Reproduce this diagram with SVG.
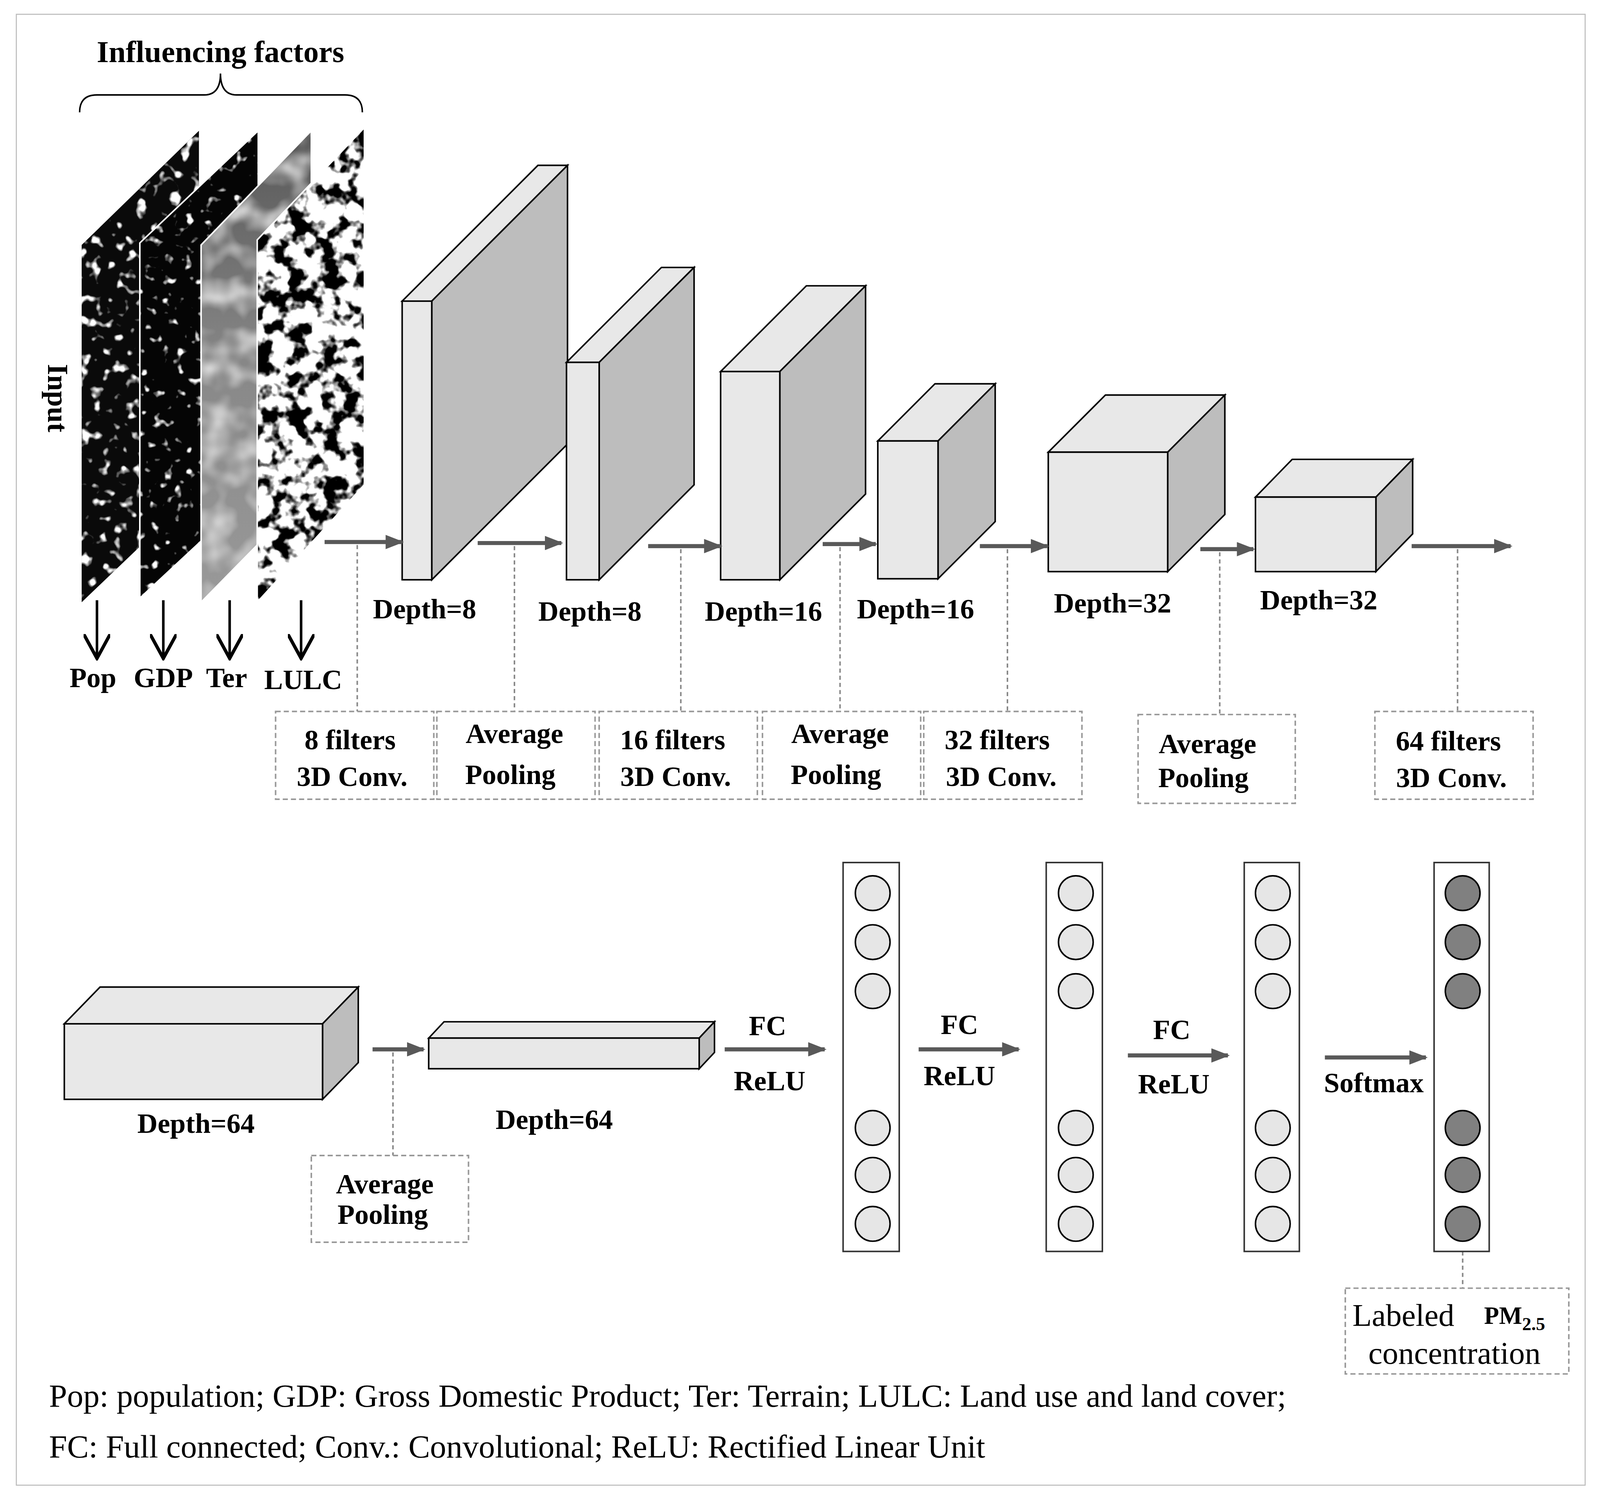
<svg xmlns="http://www.w3.org/2000/svg" width="4135" height="3868" viewBox="0 0 4135 3868">
<style>
text{font-family:"Liberation Serif","Times New Roman",serif;fill:#000}
.b{font-weight:bold;font-size:27.5px;text-anchor:middle}
.n{font-size:31px}
.lg{font-size:31.8px}
.f{fill:#e8e8e8;stroke:#000;stroke-width:1.5}
.s{fill:#bdbdbd;stroke:#000;stroke-width:1.5}
.ar{stroke:#595959;stroke-width:4;fill:none;marker-end:url(#ah)}
.dl{stroke:#888;stroke-width:1.5;stroke-dasharray:4 3;fill:none}
.db{stroke:#999;stroke-width:1.5;stroke-dasharray:5 3;fill:#fff}
.col{fill:#fff;stroke:#333;stroke-width:1.5}
.c{fill:#e6e6e6;stroke:#000;stroke-width:1.5}
.cd{fill:#808080;stroke:#000;stroke-width:1.5}
.da{stroke:#000;stroke-width:2.5;fill:none;marker-end:url(#bh)}
</style>
<defs>
<marker id="ah" viewBox="0 0 10 10" refX="9" refY="5" markerWidth="18" markerHeight="14" orient="auto" markerUnits="userSpaceOnUse" preserveAspectRatio="none"><path d="M0,0L10,5L0,10z" fill="#595959"/></marker>
<marker id="bh" viewBox="0 0 12 12" refX="11" refY="6" markerWidth="26" markerHeight="26" orient="auto" markerUnits="userSpaceOnUse"><path d="M0,0L11,6L0,12" fill="none" stroke="#000" stroke-width="1.5"/></marker>
<clipPath id="p1"><polygon points="80,240 195,128 195,480 80,590"/></clipPath>
<clipPath id="p2"><polygon points="137,238 253,128 253,478 137,586"/></clipPath>
<clipPath id="p3"><polygon points="197,240 305,128 305,480 197,590"/></clipPath>
<clipPath id="p4"><polygon points="252,235 357,125 357,475 252,590"/></clipPath>
<filter id="nW" filterUnits="userSpaceOnUse" x="60" y="110" width="320" height="500"><feTurbulence type="fractalNoise" baseFrequency="0.09" numOctaves="2" seed="3"/><feColorMatrix type="matrix" values="0 0 0 0 1 0 0 0 0 1 0 0 0 0 1 7 0 0 0 -4.1"/></filter>
<filter id="nW2" filterUnits="userSpaceOnUse" x="60" y="110" width="320" height="500"><feTurbulence type="fractalNoise" baseFrequency="0.1" numOctaves="2" seed="11"/><feColorMatrix type="matrix" values="0 0 0 0 1 0 0 0 0 1 0 0 0 0 1 7 0 0 0 -4.4"/></filter>
<filter id="nB" filterUnits="userSpaceOnUse" x="60" y="110" width="320" height="500"><feTurbulence type="fractalNoise" baseFrequency="0.06" numOctaves="3" seed="7"/><feColorMatrix type="matrix" values="0 0 0 0 0 0 0 0 0 0 0 0 0 0 0 8 0 0 0 -3.8"/></filter>
<filter id="nG" filterUnits="userSpaceOnUse" x="60" y="110" width="320" height="500"><feTurbulence type="fractalNoise" baseFrequency="0.04" numOctaves="2" seed="5"/><feColorMatrix type="matrix" values="0 0 0 0 0.75 0 0 0 0 0.75 0 0 0 0 0.75 2 0 0 0 -0.8"/></filter>
<linearGradient id="gg" x1="0" y1="0" x2="0" y2="1"><stop offset="0" stop-color="#555"/><stop offset="0.5" stop-color="#888"/><stop offset="1" stop-color="#9a9a9a"/></linearGradient>
</defs>
<rect width="4135" height="3868" fill="#fff"/>
<g transform="scale(2.613)">
<rect x="16" y="14" width="1537" height="1441" fill="none" stroke="#bbb" stroke-width="1"/>
<g id="input">
<text class="b" x="216" y="61" style="font-size:30px">Influencing factors</text>
<path d="M78,110 Q78,93 95,93 L200,93 Q216,93 216,72 Q216,93 232,93 L338,93 Q355,93 355,110" fill="none" stroke="#000" stroke-width="1.5"/>
<text class="b" transform="translate(47,390) rotate(90)" style="font-size:28px">Input</text>
<g clip-path="url(#p1)"><rect x="70" y="120" width="300" height="480" fill="#0a0a0a"/><rect x="70" y="120" width="300" height="480" filter="url(#nW)"/></g>
<g clip-path="url(#p2)"><rect x="70" y="120" width="300" height="480" fill="#050505"/><rect x="70" y="120" width="300" height="480" filter="url(#nW2)"/></g>
<polygon points="137,238 253,128 253,478 137,586" fill="none" stroke="#fff" stroke-width="1.5"/>
<g clip-path="url(#p3)"><rect x="70" y="120" width="300" height="480" fill="url(#gg)"/><rect x="70" y="120" width="300" height="480" filter="url(#nG)"/></g>
<polygon points="197,240 305,128 305,480 197,590" fill="none" stroke="#fff" stroke-width="1.5"/>
<g clip-path="url(#p4)"><rect x="70" y="120" width="300" height="480" fill="#fff"/><rect x="70" y="120" width="300" height="480" filter="url(#nB)"/></g>
<polygon points="252,235 357,125 357,475 252,590" fill="none" stroke="#fff" stroke-width="1.5"/>
<line class="da" x1="95" y1="588" x2="95" y2="645"/>
<line class="da" x1="160" y1="588" x2="160" y2="645"/>
<line class="da" x1="225" y1="588" x2="225" y2="645"/>
<line class="da" x1="295" y1="588" x2="295" y2="645"/>
<text class="b" x="91" y="673">Pop</text>
<text class="b" x="160" y="673">GDP</text>
<text class="b" x="222" y="673">Ter</text>
<text class="b" x="297" y="675">LULC</text>
</g>
<g id="blocks">
<g id="b1"><polygon class="f" points="394,295 423,295 556,162 527,162"/><polygon class="s" points="423,295 556,162 556,435 423,568"/><rect class="f" x="394" y="295" width="29" height="273"/></g>
<g id="b2"><polygon class="f" points="555,355 587,355 680,262 648,262"/><polygon class="s" points="587,355 680,262 680,475 587,568"/><rect class="f" x="555" y="355" width="32" height="213"/></g>
<g id="b3"><polygon class="f" points="706,364 764,364 848,280 790,280"/><polygon class="s" points="764,364 848,280 848,484 764,568"/><rect class="f" x="706" y="364" width="58" height="204"/></g>
<g id="b4"><polygon class="f" points="860,432 919,432 975,376 916,376"/><polygon class="s" points="919,432 975,376 975,511 919,567"/><rect class="f" x="860" y="432" width="59" height="135"/></g>
<g id="b5"><polygon class="f" points="1027,443 1144,443 1200,387 1083,387"/><polygon class="s" points="1144,443 1200,387 1200,504 1144,560"/><rect class="f" x="1027" y="443" width="117" height="117"/></g>
<g id="b6"><polygon class="f" points="1230,487 1348,487 1384,450 1266,450"/><polygon class="s" points="1348,487 1384,450 1384,523 1348,560"/><rect class="f" x="1230" y="487" width="118" height="73"/></g>
<g id="b7"><polygon class="f" points="63,1003 316,1003 351,967 98,967"/><polygon class="s" points="316,1003 351,967 351,1041 316,1077"/><rect class="f" x="63" y="1003" width="253" height="74"/></g>
<g id="b8"><polygon class="f" points="420,1017 685,1017 700,1001 435,1001"/><polygon class="s" points="685,1017 700,1001 700,1031 685,1047"/><rect class="f" x="420" y="1017" width="265" height="30"/></g>
<text class="b" x="416" y="606">Depth=8</text>
<text class="b" x="578" y="608">Depth=8</text>
<text class="b" x="748" y="608">Depth=16</text>
<text class="b" x="897" y="606">Depth=16</text>
<text class="b" x="1090" y="600">Depth=32</text>
<text class="b" x="1292" y="597">Depth=32</text>
<text class="b" x="192" y="1110">Depth=64</text>
<text class="b" x="543" y="1106">Depth=64</text>
</g>
<g id="connectors">
<line class="ar" x1="318" y1="531" x2="394" y2="531"/>
<line class="ar" x1="468" y1="532" x2="550" y2="532"/>
<line class="ar" x1="635" y1="535" x2="706" y2="535"/>
<line class="ar" x1="806" y1="533" x2="858" y2="533"/>
<line class="ar" x1="960" y1="535" x2="1026" y2="535"/>
<line class="ar" x1="1176" y1="538" x2="1228" y2="538"/>
<line class="ar" x1="1383" y1="535" x2="1480" y2="535"/>
<line class="ar" x1="365" y1="1028" x2="415" y2="1028"/>
<line class="ar" x1="710" y1="1028" x2="808" y2="1028"/>
<line class="ar" x1="900" y1="1028" x2="998" y2="1028"/>
<line class="ar" x1="1105" y1="1034" x2="1203" y2="1034"/>
<line class="ar" x1="1298" y1="1036" x2="1397" y2="1036"/>
<line class="dl" x1="350" y1="534" x2="350" y2="697"/>
<line class="dl" x1="504" y1="535" x2="504" y2="697"/>
<line class="dl" x1="667" y1="538" x2="667" y2="697"/>
<line class="dl" x1="823" y1="536" x2="823" y2="697"/>
<line class="dl" x1="987" y1="538" x2="987" y2="697"/>
<line class="dl" x1="1195" y1="541" x2="1195" y2="700"/>
<line class="dl" x1="1428" y1="538" x2="1428" y2="697"/>
<line class="dl" x1="385" y1="1031" x2="385" y2="1132"/>
<line class="dl" x1="1433" y1="1226" x2="1433" y2="1262"/>
</g>
<g id="labels">
<rect class="db" x="270" y="697" width="155" height="86"/><text class="b" x="343" y="734">8 filters</text><text class="b" x="345" y="770">3D Conv.</text>
<rect class="db" x="428" y="697" width="155" height="86"/><text class="b" x="504" y="728">Average</text><text class="b" x="500" y="768">Pooling</text>
<rect class="db" x="587" y="697" width="155" height="86"/><text class="b" x="659" y="734">16 filters</text><text class="b" x="662" y="770">3D Conv.</text>
<rect class="db" x="747" y="697" width="155" height="86"/><text class="b" x="823" y="728">Average</text><text class="b" x="819" y="768">Pooling</text>
<rect class="db" x="905" y="697" width="155" height="86"/><text class="b" x="977" y="734">32 filters</text><text class="b" x="981" y="770">3D Conv.</text>
<rect class="db" x="1115" y="700" width="154" height="87"/><text class="b" x="1183" y="738">Average</text><text class="b" x="1179" y="771">Pooling</text>
<rect class="db" x="1347" y="697" width="155" height="86"/><text class="b" x="1419" y="735">64 filters</text><text class="b" x="1422" y="771">3D Conv.</text>
<rect class="db" x="305" y="1132" width="154" height="85"/><text class="b" x="377" y="1169">Average</text><text class="b" x="375" y="1199">Pooling</text>
<rect class="db" x="1318" y="1262" width="219" height="84"/>
<text class="n" x="1325" y="1299">Labeled</text>
<text x="1454" y="1297" style="font-weight:bold;font-size:24px">PM<tspan dy="6" style="font-size:18px">2.5</tspan></text>
<text class="n" x="1425" y="1336" text-anchor="middle">concentration</text>
<text class="b" x="752" y="1014">FC</text><text class="b" x="754" y="1068">ReLU</text>
<text class="b" x="940" y="1013">FC</text><text class="b" x="940" y="1063">ReLU</text>
<text class="b" x="1148" y="1018">FC</text><text class="b" x="1150" y="1071">ReLU</text>
<text class="b" x="1346" y="1070">Softmax</text>
</g>
<g id="fc1"><rect class="col" x="826" y="845" width="55" height="381"/><circle class="c" cx="855" cy="875" r="17"/><circle class="c" cx="855" cy="923" r="17"/><circle class="c" cx="855" cy="971" r="17"/><circle class="c" cx="855" cy="1105" r="17"/><circle class="c" cx="855" cy="1151" r="17"/><circle class="c" cx="855" cy="1199" r="17"/></g>
<g id="fc2"><rect class="col" x="1025" y="845" width="55" height="381"/><circle class="c" cx="1054" cy="875" r="17"/><circle class="c" cx="1054" cy="923" r="17"/><circle class="c" cx="1054" cy="971" r="17"/><circle class="c" cx="1054" cy="1105" r="17"/><circle class="c" cx="1054" cy="1151" r="17"/><circle class="c" cx="1054" cy="1199" r="17"/></g>
<g id="fc3"><rect class="col" x="1219" y="845" width="54" height="381"/><circle class="c" cx="1247" cy="875" r="17"/><circle class="c" cx="1247" cy="923" r="17"/><circle class="c" cx="1247" cy="971" r="17"/><circle class="c" cx="1247" cy="1105" r="17"/><circle class="c" cx="1247" cy="1151" r="17"/><circle class="c" cx="1247" cy="1199" r="17"/></g>
<g id="out"><rect class="col" x="1405" y="845" width="54" height="381"/><circle class="cd" cx="1433" cy="875" r="17"/><circle class="cd" cx="1433" cy="923" r="17"/><circle class="cd" cx="1433" cy="971" r="17"/><circle class="cd" cx="1433" cy="1105" r="17"/><circle class="cd" cx="1433" cy="1151" r="17"/><circle class="cd" cx="1433" cy="1199" r="17"/></g>
<g id="legend">
<text class="lg" x="48" y="1378">Pop: population; GDP: Gross Domestic Product; Ter: Terrain; LULC: Land use and land cover;</text>
<text class="lg" x="48" y="1428">FC: Full connected; Conv.: Convolutional; ReLU: Rectified Linear Unit</text>
</g>
</g>
</svg>
